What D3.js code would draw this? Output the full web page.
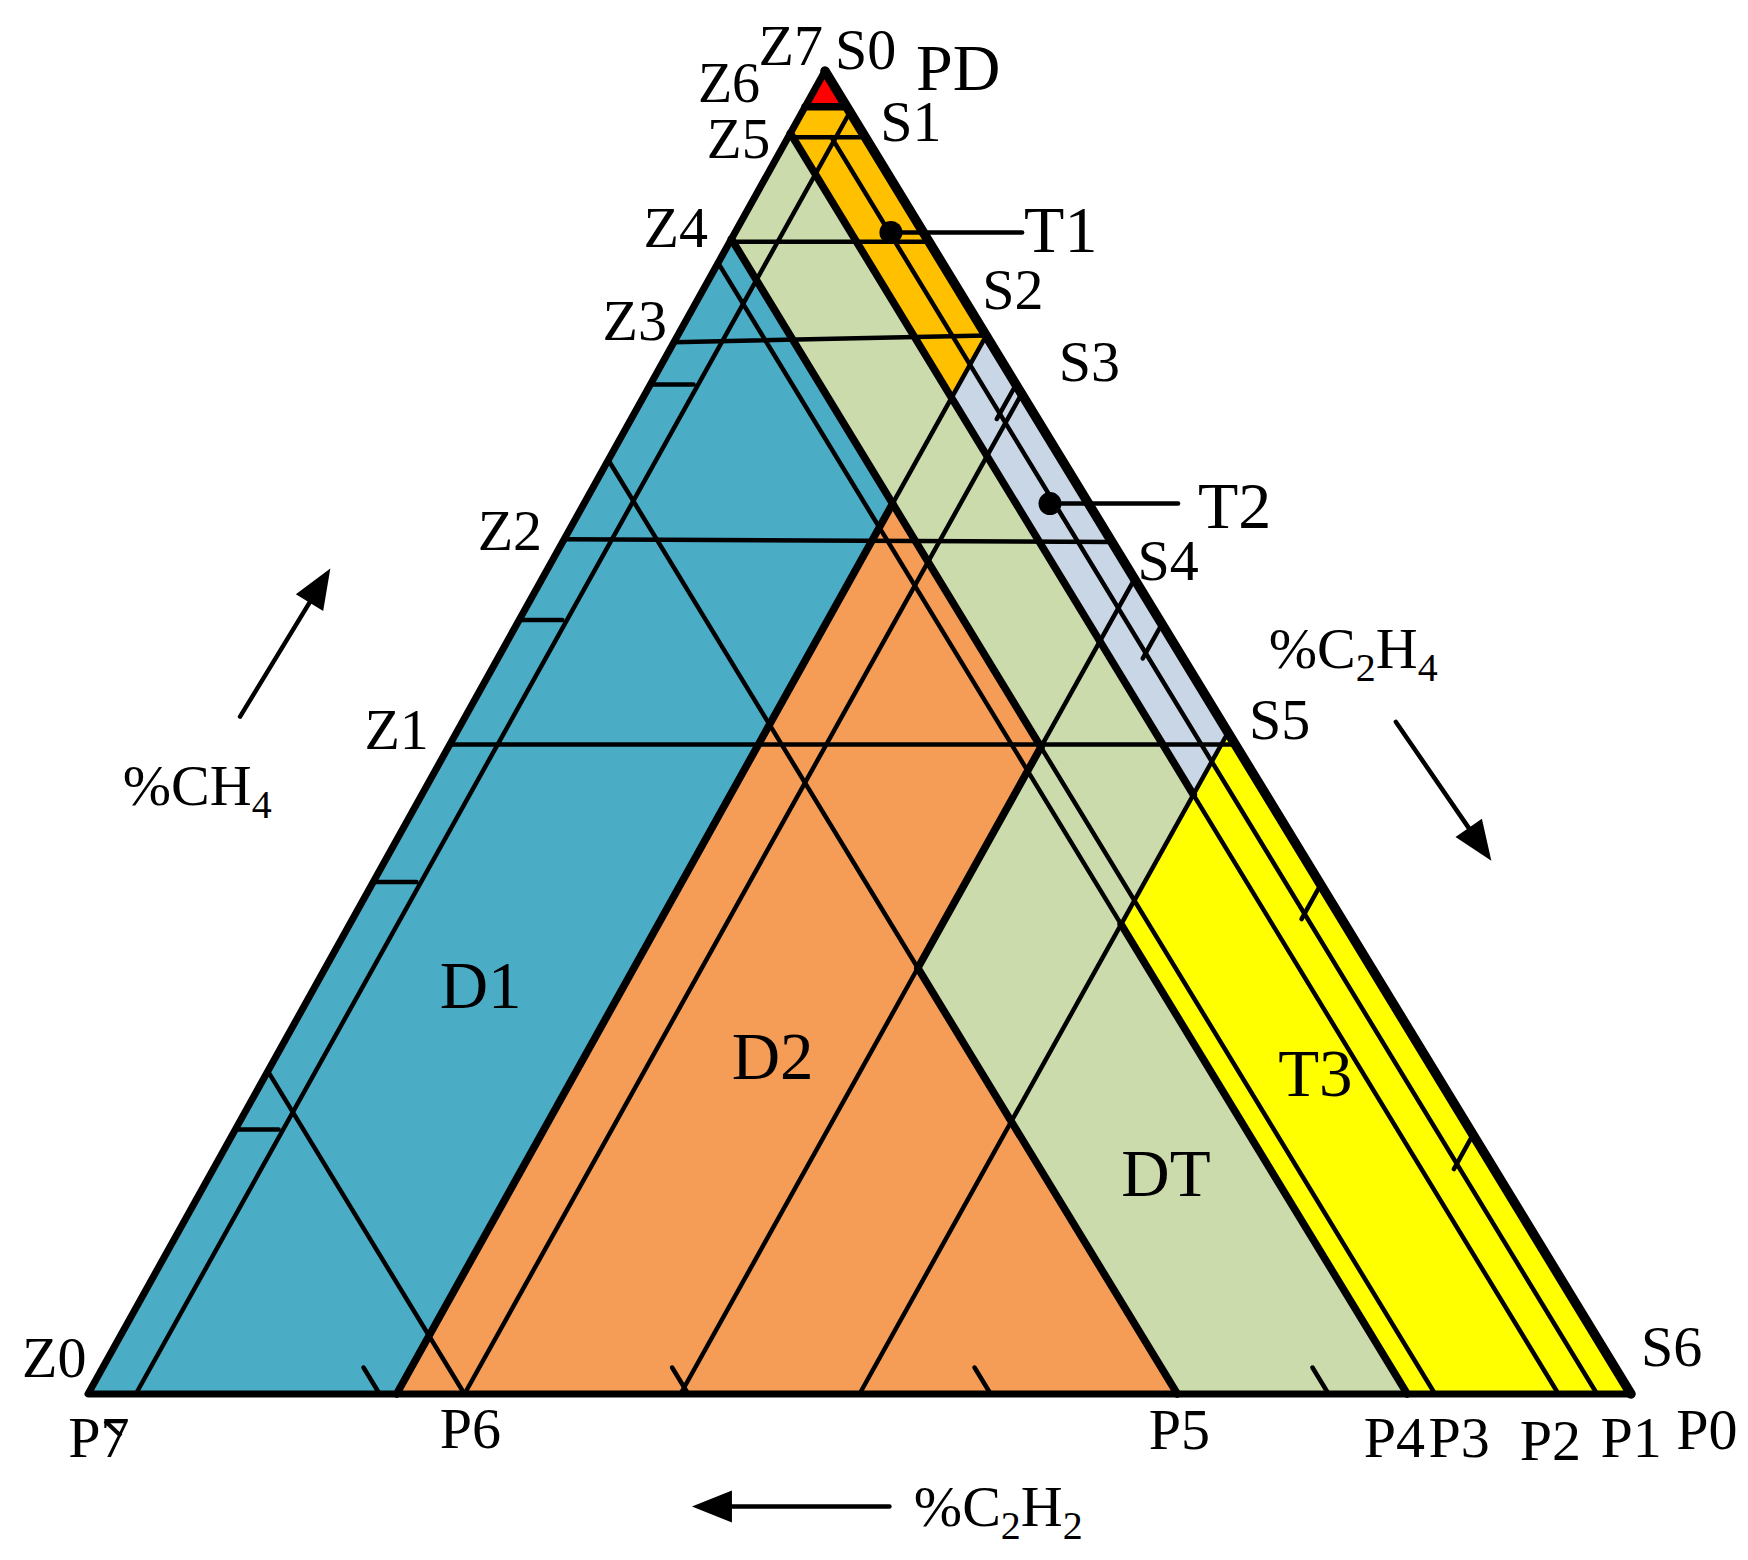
<!DOCTYPE html>
<html><head><meta charset="utf-8">
<script src="https://cdn.jsdelivr.net/npm/d3@7"></script>
<style>
body{margin:0;background:#fff}
svg{display:block}
text{font-family:"Liberation Serif","Times New Roman",serif;fill:#000}
</style>
</head><body>
<svg id="chart" width="1748" height="1560"></svg>
<script>
// ---------- DATA (ternary points are [CH4, C2H4, C2H2] in %) ----------
const zoneNames  = ["PD","T1","T2","T3","D1","D2","DT"];
const zoneColors = ["#FF0000","#FFC000","#C8D6E6","#FFFF00","#4BACC6","#F59D57","#CBDBAB"];
const zonePolygons = [
  [[100,0,0],[97.3,2.7,0],[97.3,0,2.7]],
  [[97.3,2.7,0],[80,20,0],[75.3,20,4.7],[95.3,0,4.7],[97.3,0,2.7]],
  [[80,20,0],[50,50,0],[45.3,50,4.7],[75.3,20,4.7]],
  [[50,50,0],[0,100,0],[0,85.5,14.5],[35.5,50,14.5],[45.3,50,4.7]],
  [[87.3,0,12.7],[67.3,20,12.7],[0,20,80],[0,0,100]],
  [[67.3,20,12.7],[48.9,38.4,12.7],[32.2,38.4,29.4],[0,70.6,29.4],[0,20,80]],
  [[95.3,0,4.7],[75.3,20,4.7],[45.3,50,4.7],[35.5,50,14.5],[0,85.5,14.5],[0,70.6,29.4],
   [32.2,38.4,29.4],[48.9,38.4,12.7],[67.3,20,12.7],[87.3,0,12.7]]
];

// CH4 = const lines: [CH4 at left edge, CH4 at right edge, weight]
const ch4Lines = [[97.3,97.3,"thick"],[95.0,95.0,"thin"],[87.1,87.1,"thin"],
                  [79.5,80.0,"thin"],[64.6,64.4,"thin"],[49.1,49.1,"thin"]];

// C2H4 = const lines: [C2H4, C2H2 start, C2H2 end, weight]
const c2h4Lines = [
  [3.1,0,96.9,"thin"],
  [20,0,12.7,"thin"],[20,12.7,80,"thick"],
  [24.4,0,75.6,"thin"],
  [38.4,0,12.7,"thin"],[38.4,12.7,29.4,"thick"],[38.4,29.4,61.6,"thin"],
  [50,0,50,"thin"]
];

// C2H2 = const lines: [C2H2, C2H4 start, C2H4 end, weight]
const c2h2Lines = [
  [2.2,2.8,97.8,"thin"],
  [4.7,0,50,"thick"],[4.7,50,95.3,"thin"],
  [12.7,0,38.4,"thick"],[12.7,38.4,87.3,"thin"],
  [14.5,0,50,"thin"],[14.5,50,85.5,"thick"],
  [29.4,0,38.4,"thin"],[29.4,38.4,70.6,"thick"],
  [75.6,0,24.4,"thin"]
];

// tick positions
const leftTicks   = [20.0, 38.7, 58.5, 76.3];   // CH4 on left edge
const rightTicks  = [19.6, 38.5, 58.2, 76.3];   // CH4 on right edge
const bottomTicks = [18.9, 38.9, 58.5, 80.4];   // C2H4 on bottom edge

// marked points
const markerNames  = ["T1","T2"];
const markerPoints = [[87.8,10.1,2.1],[67.3,30.2,2.5]];
const markerLeaderEnd = [[87.8,18.6,-6.4],[67.3,38.5,-5.8]];
const markerLabelShift = [[2,20],[20,24]];

// point labels: text, anchor [CH4,C2H4,C2H2], offset [dx,dy], text-anchor, size
const pointLabels = [
  ["Z7",[100,0,0],[-2,-6],"end",58],
  ["S0",[100,0,0],[10,-2],"start",58],
  ["PD",[100,0,0],[91,19],"start",66],
  ["Z6",[97.3,0,2.7],[-45,-5],"end",56],
  ["S1",[95,5,0],[15,4],"start",58],
  ["Z5",[95,0,5],[-18,21],"end",57],
  ["Z4",[87.1,0,12.9],[-22,5],"end",58],
  ["S2",[80,20,0],[-4,-27],"start",58],
  ["Z3",[79.5,0,20.5],[-7,-2],"end",58],
  ["S3",[75.6,24.4,0],[37,-13],"start",58],
  ["Z2",[64.6,0,35.4],[-22,11],"end",58],
  ["S4",[61.6,38.4,0],[3,1],"start",58],
  ["S5",[50,50,0],[21,6],"start",58],
  ["Z1",[49.1,0,50.9],[-21,5],"end",58],
  ["S6",[0,100,0],[10,-28],"start",58],
  ["Z0",[0,0,100],[-66,-17],"start",58],
  ["P7",[0,0,100],[11,63],"middle",58],
  ["P6",[0,24.4,75.6],[6,54],"middle",58],
  ["P5",[0,70.6,29.4],[2,55],"middle",58],
  ["P4",[0,85.5,14.5],[-13,63],"middle",58],
  ["P3",[0,87.3,12.7],[24,63],"middle",58],
  ["P2",[0,95.3,4.7],[-8,66],"middle",58],
  ["P1",[0,97.8,2.2],[34,63],"middle",58],
  ["P0",[0,100,0],[76,55],"middle",58]
];

// zone labels: text, position [CH4,C2H4,C2H2]
const zoneLabels = [
  ["D1",[29.2,11.5,59.3]],
  ["D2",[23.8,33.0,43.2]],
  ["DT",[15.0,62.7,22.3]],
  ["T3",[22.5,68.8,8.7]]
];

// axis titles: parts [text, isSubscript], anchor position
const axisTitles = [
  {parts:[["%CH",0],["4",1]], pos:[44.5,-19,74.5]},
  {parts:[["%C",0],["2",1],["H",0],["4",1]], pos:[54.9,50.3,-5.2]},
  {parts:[["%C",0],["2",1],["H",0],["2",1]], pos:[-10,58.3,51.7]}
];
// axis arrows: tail, tip
const axisArrows = [
  [[51.2,-14.6,63.4],[62.4,-14.1,51.7]],
  [[50.8,60.5,-11.3],[40.3,71.7,-12.0]],
  [[-8.5,56.0,52.5],[-8.5,43.2,65.3]]
];

// ---------- SCALES ----------
const yScale = d3.scaleLinear().domain([0,100]).range([1394,71]);   // CH4 -> y
const xScale = d3.scaleLinear().domain([0,100]).range([88,1631]);   // C2H4 -> x
const skew   = d3.scaleLinear().domain([0,100]).range([0,737]);     // CH4 -> x shift
const P = t => [xScale(t[1]) + skew(t[0]), yScale(t[0])];

const W = {thin:4.5, thick:7.5};
const svg = d3.select("#chart");
const line = d3.line();

// zones
svg.append("g").selectAll("path").data(zonePolygons).join("path")
  .attr("d", d => line(d.map(P)) + "Z")
  .attr("fill", (d,i) => zoneColors[i]);

// grid / boundary segments
const segs = [];
ch4Lines.forEach(([l,r,w]) => segs.push([[l,0,100-l],[r,100-r,0],w]));
c2h4Lines.forEach(([c,b0,b1,w]) => segs.push([[100-c-b0,c,b0],[100-c-b1,c,b1],w]));
c2h2Lines.forEach(([b,c0,c1,w]) => segs.push([[100-b-c0,c0,b],[100-b-c1,c1,b],w]));
const segSorted = segs.filter(s=>s[2]==="thin").concat(segs.filter(s=>s[2]==="thick"));
svg.append("g").selectAll("path").data(segSorted).join("path")
  .attr("d", d => line([P(d[0]),P(d[1])]))
  .attr("stroke","#000").attr("fill","none")
  .attr("stroke-width", d => W[d[2]])
  .attr("stroke-linecap","round");

// outer triangle
const A=[100,0,0], B=[0,0,100], C=[0,100,0];
svg.append("path").attr("d", line([P(A),P(B),P(C)])+"Z")
  .attr("fill","none").attr("stroke","#000").attr("stroke-width",7)
  .attr("stroke-linejoin","round");
svg.append("path").attr("d", line([P(A),P(C)]))
  .attr("fill","none").attr("stroke","#000").attr("stroke-width",9.5)
  .attr("stroke-linecap","round");

// ticks
const tickSegs = [];
leftTicks.forEach(a => tickSegs.push([[a,0,100-a],[a,2.8,97.2-a]]));
rightTicks.forEach(a => tickSegs.push([[a,100-a,0],[a-2.6,100-a,2.6]]));
bottomTicks.forEach(c => tickSegs.push([[0,c,100-c],[2,c-2,100-c]]));
svg.append("g").selectAll("path").data(tickSegs).join("path")
  .attr("d", d => line([P(d[0]),P(d[1])]))
  .attr("stroke","#000").attr("stroke-width",4.5).attr("stroke-linecap","round");

// markers T1, T2
markerPoints.forEach((p,i) => {
  svg.append("path").attr("d", line([P(p),P(markerLeaderEnd[i])]))
    .attr("stroke","#000").attr("stroke-width",4.5).attr("stroke-linecap","round");
  svg.append("circle").attr("cx",P(p)[0]).attr("cy",P(p)[1]).attr("r",11.5).attr("fill","#000");
  const e = P(markerLeaderEnd[i]);
  svg.append("text").attr("x",e[0]+markerLabelShift[i][0]).attr("y",e[1]+markerLabelShift[i][1])
    .attr("font-size",66).text(markerNames[i]);
});

// point labels
svg.append("g").selectAll("text").data(pointLabels).join("text")
  .attr("x", d => P(d[1])[0] + d[2][0])
  .attr("y", d => P(d[1])[1] + d[2][1])
  .attr("text-anchor", d => d[3])
  .attr("font-size", d => d[4])
  .text(d => d[0]);

// small stroke crossing the "7" of P7
{
  const b = P([0,0,100]);
  svg.append("path").attr("d", line([[b[0]+17,b[1]+27],[b[0]+33,b[1]+42]]))
    .attr("stroke","#000").attr("stroke-width",4);
}

// zone labels
svg.append("g").selectAll("text").data(zoneLabels).join("text")
  .attr("x", d => P(d[1])[0]).attr("y", d => P(d[1])[1])
  .attr("text-anchor","middle").attr("font-size",67)
  .text(d => d[0]);

// axis titles
axisTitles.forEach(t => {
  const p = P(t.pos);
  const tx = svg.append("text").attr("x",p[0]).attr("y",p[1]).attr("font-size",58);
  let sub = 0;
  t.parts.forEach(([s,isSub]) => {
    const ts = tx.append("tspan").text(s);
    if (isSub && !sub) { ts.attr("dy",13).attr("font-size",40); sub=1; }
    else if (isSub) { ts.attr("font-size",40); }
    else if (sub) { ts.attr("dy",-13); sub=0; }
  });
});

// axis arrows
axisArrows.forEach(([t0,t1]) => {
  const a = P(t0), b = P(t1);
  const dx=b[0]-a[0], dy=b[1]-a[1], L=Math.hypot(dx,dy), ux=dx/L, uy=dy/L;
  const hl=40, hw=16;
  const base=[b[0]-ux*hl, b[1]-uy*hl];
  svg.append("path").attr("d", line([a, base]))
    .attr("stroke","#000").attr("stroke-width",4.5).attr("stroke-linecap","round");
  svg.append("path").attr("d", line([b,[base[0]-uy*hw, base[1]+ux*hw],[base[0]+uy*hw, base[1]-ux*hw]])+"Z")
    .attr("fill","#000");
});
</script>
</body></html>
